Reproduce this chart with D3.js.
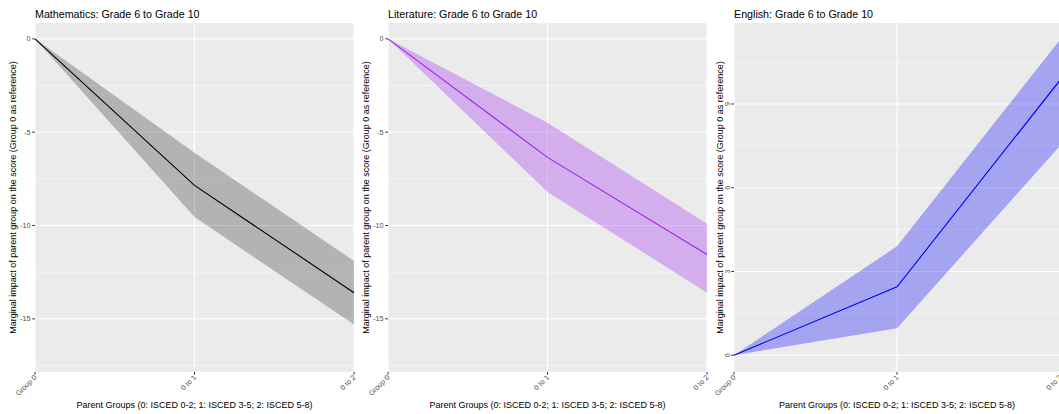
<!DOCTYPE html>
<html>
<head>
<meta charset="utf-8">
<script src="https://cdn.jsdelivr.net/npm/d3@7"></script>
<style>
  html, body { margin: 0; padding: 0; background: #ffffff; overflow: hidden; }
  svg { display: block; font-family: "Liberation Sans", Arial, Helvetica, sans-serif; }
</style>
</head>
<body>
<svg id="chart" width="1059" height="414"></svg>
<script>
// ---- Data ----
const categories = ["Group 0", "0 to 1", "0 to 2"];

const mathEst = [0, -7.85, -13.6];
const mathLo  = [0, -9.55, -15.3];
const mathHi  = [0, -6.1, -11.9];

const litEst = [0, -6.35, -11.55];
const litLo  = [0, -8.2, -13.6];
const litHi  = [0, -4.5, -9.9];

const engEst = [0, 2.45, 9.85];
const engLo  = [0, 0.97, 7.5];
const engHi  = [0, 3.9, 11.3];

const titles = ["Mathematics: Grade 6 to Grade 10", "Literature: Grade 6 to Grade 10", "English: Grade 6 to Grade 10"];
const negTicks = [0, -5, -10, -15];
const negMinor = [-2.5, -7.5, -12.5, -17.5];
const posTicks = [0, 3, 6, 9];
const posMinor = [1.5, 4.5, 7.5, 10.5];
const yTitle = "Marginal impact of parent group on the score (Group 0 as reference)";
const xTitle = "Parent Groups (0: ISCED 0-2; 1: ISCED 3-5; 2: ISCED 5-8)";

// ---- Panels ----
const panels = [
  { title: titles[0], est: mathEst, lo: mathLo, hi: mathHi, domain: [-17.85, 0.85], ticks: negTicks, minor: negMinor,
    left: 35, right: 354, line: "#000000", fill: "rgba(0,0,0,0.24)", yTitleX: 13, rotTicks: false },
  { title: titles[1], est: litEst, lo: litLo, hi: litHi, domain: [-17.85, 0.85], ticks: negTicks, minor: negMinor,
    left: 388, right: 707, line: "#a020f0", fill: "rgba(160,32,240,0.3)", yTitleX: 366, rotTicks: false },
  { title: titles[2], est: engEst, lo: engLo, hi: engHi, domain: [-0.6, 11.9], ticks: posTicks, minor: posMinor,
    left: 734, right: 1060, line: "#0000ff", fill: "rgba(0,0,255,0.3)", yTitleX: 719.5, rotTicks: true }
];

const plotTop = 23, plotBottom = 372;
const svg = d3.select("#chart");

panels.forEach((p, pi) => {
  const g = svg.append("g");
  const x = d3.scalePoint().domain(categories).range([p.left, p.right]).padding(0);
  const y = d3.scaleLinear().domain(p.domain).range([plotBottom, plotTop]);

  // background
  g.append("rect").attr("x", p.left).attr("y", plotTop)
    .attr("width", p.right - p.left).attr("height", plotBottom - plotTop).attr("fill", "#ebebeb");

  // minor grid
  g.selectAll(".minor").data(p.minor).join("line")
    .attr("x1", p.left).attr("x2", p.right)
    .attr("y1", d => y(d)).attr("y2", d => y(d))
    .attr("stroke", "#ffffff").attr("stroke-width", 0.55);
  // major y grid
  g.selectAll(".majory").data(p.ticks).join("line")
    .attr("x1", p.left).attr("x2", p.right)
    .attr("y1", d => y(d)).attr("y2", d => y(d))
    .attr("stroke", "#ffffff").attr("stroke-width", 1.1);
  // major x grid
  g.selectAll(".majorx").data(categories).join("line")
    .attr("x1", d => x(d)).attr("x2", d => x(d))
    .attr("y1", plotTop).attr("y2", plotBottom)
    .attr("stroke", "#ffffff").attr("stroke-width", 1.1);

  const rows = categories.map((c, i) => ({ c, est: p.est[i], lo: p.lo[i], hi: p.hi[i] }));

  // ribbon
  const area = d3.area().x(d => x(d.c)).y0(d => y(d.lo)).y1(d => y(d.hi));
  g.append("path").datum(rows).attr("d", area).attr("fill", p.fill);

  // line
  const line = d3.line().x(d => x(d.c)).y(d => y(d.est));
  g.append("path").datum(rows).attr("d", line)
    .attr("fill", "none").attr("stroke", p.line).attr("stroke-width", 1.1);

  // y axis ticks
  p.ticks.forEach(t => {
    g.append("line").attr("x1", p.left - 2.7).attr("x2", p.left)
      .attr("y1", y(t)).attr("y2", y(t)).attr("stroke", "#333333").attr("stroke-width", 1);
    if (p.rotTicks) {
      g.append("text").attr("transform", `translate(${p.left - 4.5},${y(t)}) rotate(-90)`)
        .attr("text-anchor", "middle").attr("font-size", 7.2).attr("fill", "#4d4d4d")
        .text(d3.format("d")(t));
    } else {
      g.append("text").attr("x", p.left - 4.5).attr("y", y(t)).attr("dy", "0.35em")
        .attr("text-anchor", "end").attr("font-size", 7.2).attr("fill", "#4d4d4d")
        .text(t < 0 ? "-" + Math.abs(t) : String(t));
    }
  });

  // x axis ticks
  categories.forEach(c => {
    g.append("line").attr("x1", x(c)).attr("x2", x(c))
      .attr("y1", plotBottom).attr("y2", plotBottom + 2.7).attr("stroke", "#333333").attr("stroke-width", 1);
    g.append("text").attr("transform", `translate(${x(c) + 2},${plotBottom + 6}) rotate(-45)`)
      .attr("text-anchor", "end").attr("font-size", 7.2).attr("fill", "#4d4d4d")
      .text(c);
  });

  // title
  g.append("text").attr("x", p.left).attr("y", 17.5)
    .attr("font-size", 10.7).attr("fill", "#000000").text(p.title);

  // x axis title
  g.append("text").attr("x", (p.left + p.right) / 2).attr("y", 408)
    .attr("text-anchor", "middle").attr("font-size", 9).attr("fill", "#000000").text(xTitle);

  // y axis title
  g.append("text").attr("transform", `translate(${p.yTitleX + 3},${(plotTop + plotBottom) / 2}) rotate(-90)`)
    .attr("text-anchor", "middle").attr("font-size", 9).attr("fill", "#000000").text(yTitle);
});
</script>
</body>
</html>
